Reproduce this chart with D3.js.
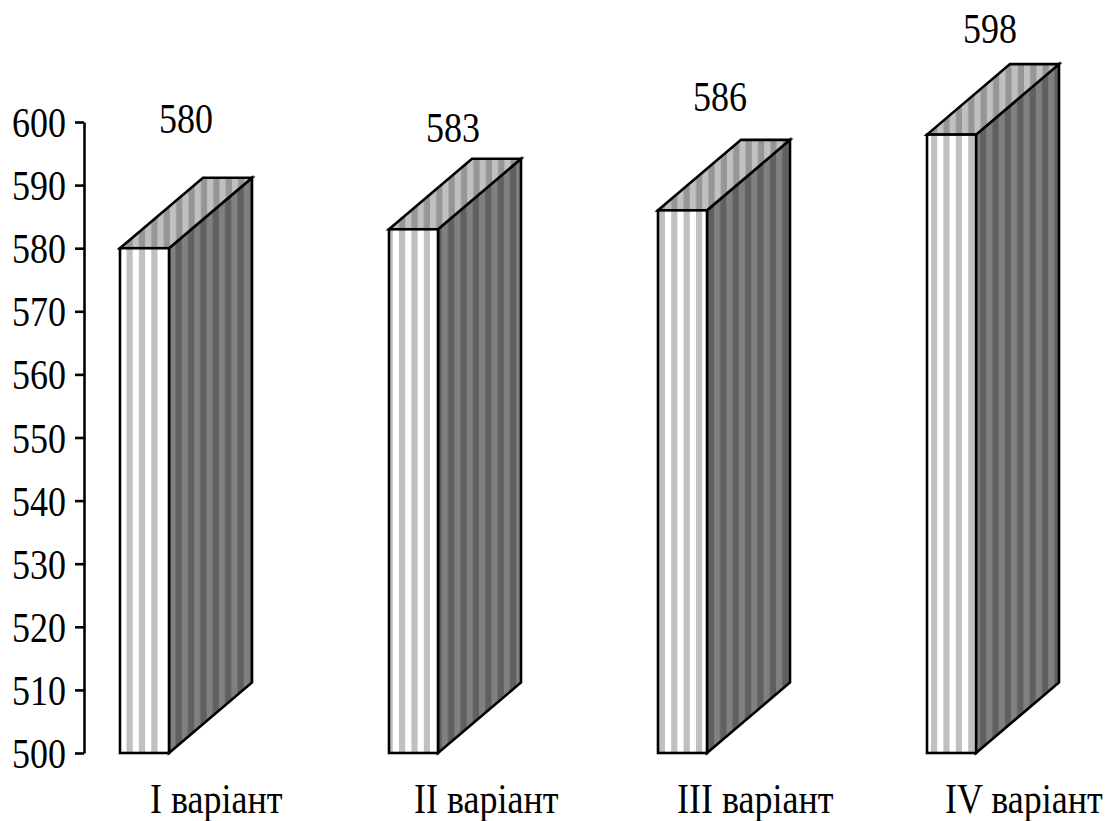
<!DOCTYPE html>
<html>
<head>
<meta charset="utf-8">
<script src="https://cdn.jsdelivr.net/npm/d3@7/dist/d3.min.js"></script>
<style>
html, body { margin: 0; padding: 0; background: #fff; }
text { font-family: "Liberation Serif", serif; font-size: 42px; fill: #000; }
</style>
</head>
<body>
<svg id="chart" width="1108" height="821"></svg>
<script>
// Chart data
const categories = ["I варіант", "II варіант", "III варіант", "IV варіант"];
const values = [580, 583, 586, 598];
const tickValues = [500, 510, 520, 530, 540, 550, 560, 570, 580, 590, 600];

// Hand-placed label nudges, in pixels from the front face of each column
const valueLabelDx = [66, 64, 62, 63];
const valueLabelDy = [-115, -87, -99.5, -91.5];
const categoryLabelDx = [30, 25, 19, 18];

// Stripe layout per column: where the first grey stripe starts and how many there are
const frontPhase = [6.5, -2.4, 0.8, 4];
const frontStripeCount = [3, 4, 4, 4];
const stripePeriod = 12.4;

const depthX = 83, depthY = 70.5;
const textSquash = 0.857; // glyphs are narrower than they are tall

const svg = d3.select("#chart");
const y = d3.scaleLinear().domain([500, 600]).range([753, 122]);
const x = d3.scaleBand().domain(categories).range([120, 976])
  .paddingInner(220 / 269).paddingOuter(0);

const defs = svg.append("defs");

// Repeating two-colour vertical stripes, used on the top and side faces
function stripes(id, c1, c2, offset) {
  const p = defs.append("pattern").attr("id", id)
    .attr("patternUnits", "userSpaceOnUse")
    .attr("width", stripePeriod).attr("height", 10)
    .attr("patternTransform", `translate(${offset},0)`);
  p.append("rect").attr("width", stripePeriod).attr("height", 10).attr("fill", c1);
  p.append("rect").attr("x", stripePeriod / 2).attr("width", stripePeriod / 2).attr("height", 10).attr("fill", c2);
}

// Front face: white ground with a fixed number of grey stripes
function frontStripes(id, x0, phase, count) {
  const margin = 20;
  const p = defs.append("pattern").attr("id", id)
    .attr("patternUnits", "userSpaceOnUse")
    .attr("width", 200).attr("height", 10)
    .attr("patternTransform", `translate(${x0 - margin},0)`);
  p.append("rect").attr("width", 200).attr("height", 10).attr("fill", "#ffffff");
  d3.range(count).forEach(k => {
    p.append("rect")
      .attr("x", margin + phase + k * stripePeriod)
      .attr("width", stripePeriod / 2).attr("height", 10).attr("fill", "#c0c0c0");
  });
}

const bars = svg.append("g").selectAll("g")
  .data(categories.map((c, i) => ({ c, v: values[i], i })))
  .join("g");

bars.each(function (d) {
  const g = d3.select(this);
  const x0 = x(d.c), x1 = x0 + x.bandwidth(), yt = y(d.v), yb = y(500);
  const phase = ((frontPhase[d.i] % stripePeriod) + stripePeriod) % stripePeriod;
  frontStripes(`front${d.i}`, x0, frontPhase[d.i], frontStripeCount[d.i]);
  stripes(`side${d.i}`, "#808080", "#606060", x1 + phase - stripePeriod / 2);
  stripes(`top${d.i}`, "#c0c0c0", "#969696", x0 + phase - stripePeriod / 2);
  const style = sel => sel.attr("stroke", "#000").attr("stroke-width", 2.6).attr("stroke-linejoin", "miter");

  g.append("path")
    .attr("d", `M${x1},${yb}L${x1 + depthX},${yb - depthY}L${x1 + depthX},${yt - depthY}L${x1},${yt}Z`)
    .attr("fill", `url(#side${d.i})`).call(style);
  g.append("path")
    .attr("d", `M${x0},${yt}L${x0 + depthX},${yt - depthY}L${x1 + depthX},${yt - depthY}L${x1},${yt}Z`)
    .attr("fill", `url(#top${d.i})`).call(style);
  g.append("rect")
    .attr("x", x0).attr("y", yt).attr("width", x.bandwidth()).attr("height", yb - yt)
    .attr("fill", `url(#front${d.i})`).call(style);

  g.append("text")
    .attr("transform", `translate(${x0 + valueLabelDx[d.i]},${yt + valueLabelDy[d.i]}) scale(${textSquash},1)`)
    .attr("text-anchor", "middle").text(d.v);
  g.append("text")
    .attr("transform", `translate(${x0 + categoryLabelDx[d.i]},813) scale(${textSquash},1)`)
    .text(d.c);
});

// Value axis
const axis = svg.append("g").attr("transform", "translate(84,0)")
  .call(d3.axisLeft(y).tickValues(tickValues).tickSize(9).tickSizeOuter(0).tickFormat(d3.format("d")));
axis.selectAll("path, line").attr("stroke", "#000").attr("stroke-width", 2.6);
axis.selectAll(".tick text")
  .style("font-family", '"Liberation Serif", serif').style("font-size", "42px")
  .attr("fill", "#000").attr("x", null).attr("dy", null)
  .attr("text-anchor", "end")
  .attr("transform", `translate(-18,14.5) scale(${textSquash},1)`);
</script>
</body>
</html>
